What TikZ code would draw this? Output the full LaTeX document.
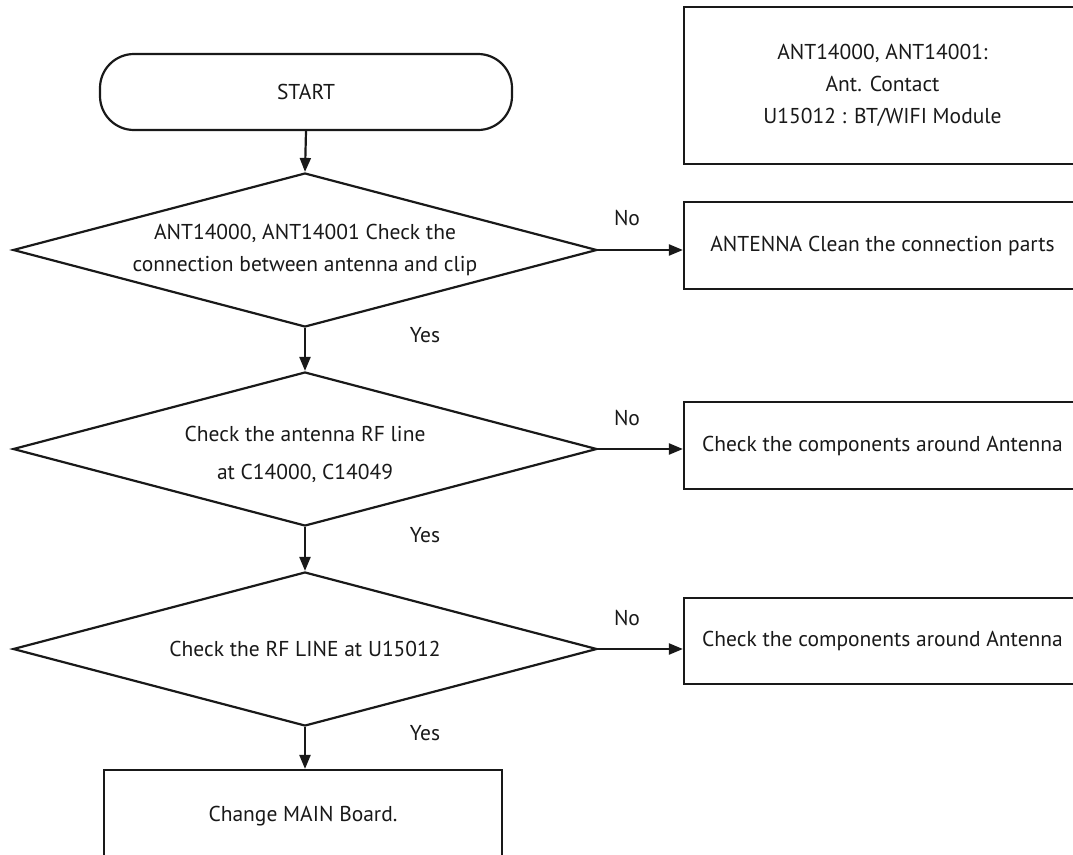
\documentclass[tikz,border=0pt]{standalone}
\usepackage{fontspec}
\setmainfont{PT Sans}
\usetikzlibrary{arrows.meta,shapes.geometric}
\begin{document}
\begin{tikzpicture}[x=1pt,y=-1pt,
  every node/.style={font=\fontsize{21.5}{32}\selectfont, text=black!90},
  line/.style={draw=black!90, line width=2.2pt},
  arr/.style={line, -{Triangle[length=14pt,width=11pt]}},
  startbox/.style={line, rounded corners=34pt, minimum width=412pt, minimum height=76pt},
  decision/.style={line, diamond, aspect=3.8, minimum width=584pt, minimum height=154pt, inner sep=0pt, align=center},
  infobox/.style={line, rectangle, minimum width=397pt, align=center, inner sep=0pt},
  lbl/.style={inner sep=0pt}
]
\clip (0,0) rectangle (1073,854);
\node[startbox] (start) at (306,92) {START};
\node[decision] (d1) at (305,250) {ANT14000, ANT14001 Check the\\connection between antenna and clip};
\node[decision] (d2) at (305,449) {};
\node[align=center, font=\fontsize{21.5}{38}\selectfont] (t2) at (305,454) {Check the antenna RF line\\at C14000, C14049};
\node[decision] (d3) at (305,649) {Check the RF LINE at U15012};
\node[infobox, minimum height=157pt] (info) at (882.5,85.5) {ANT14000, ANT14001:\\Ant. Contact\\U15012 : BT/WIFI Module};
\node[infobox, minimum height=87pt] (b1) at (882.5,245.5) {ANTENNA Clean the connection parts};
\node[infobox, minimum height=87pt] (b2) at (882.5,445.5) {Check the components around Antenna};
\node[infobox, minimum height=86pt] (b3) at (882.5,641) {Check the components around Antenna};
\node[infobox, minimum width=398pt, minimum height=92pt] (fin) at (303,816) {Change MAIN Board.};

\draw[arr] (start.south) -- (d1.north);
\draw[arr] (d1.south) -- (d2.north);
\draw[arr] (d2.south) -- (d3.north);
\draw[arr] (d3.south) -- (d3.south |- fin.north);
\draw[arr] (d1.east) -- (d1.east -| b1.west);
\draw[arr] (d2.east) -- (d2.east -| b2.west);
\draw[arr] (d3.east) -- (d3.east -| b3.west);

\node[lbl] (n1) at (627,218) {No};
\node[lbl] (n2) at (627,418) {No};
\node[lbl] (n3) at (627,618) {No};
\node[lbl] (y1) at (425,335) {Yes};
\node[lbl] (y2) at (425,535) {Yes};
\node[lbl] (y3) at (425,733) {Yes};
\end{tikzpicture}
\end{document}
